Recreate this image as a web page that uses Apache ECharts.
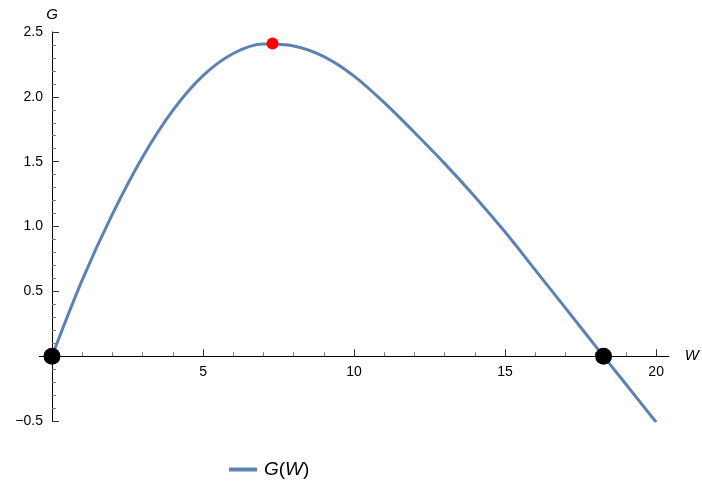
<!DOCTYPE html>
<html>
<head>
<meta charset="utf-8">
<script src="https://cdn.jsdelivr.net/npm/echarts@6/dist/echarts.min.js"></script>
<style>
  html, body { margin: 0; padding: 0; background: #fff; }
  #chart { width: 702px; height: 485px; }
</style>
</head>
<body>
<div id="chart"></div>
<script>
// values
var wValues = [0, 1, 2, 3, 4, 5, 6, 7, 8, 9, 10, 11, 12, 13, 14, 15, 16, 17, 18, 19, 20];
var gValues = [0, 0.587, 1.095, 1.536, 1.895, 2.163, 2.334, 2.407, 2.392, 2.31, 2.16, 1.955, 1.725, 1.485, 1.23, 0.957, 0.664, 0.37, 0.076, -0.217, -0.51];
var maxPoint = [[7.3, 2.411]];
var zeroPoints = [[0, 0], [18.26, 0]];
var xMajorTicks = [5, 10, 15, 20];
var xMinorTicks = [1, 2, 3, 4, 6, 7, 8, 9, 11, 12, 13, 14, 16, 17, 18, 19];

var curve = wValues.map(function (w, i) { return [w, gValues[i]]; });

var myChart = echarts.init(document.getElementById('chart'));
var font = 'Liberation Sans, Arial, sans-serif';

// axes cross at (0,0): offsets move them in from the grid edges
var xAxisOffset = -64.8;
var yAxisOffset = -12.7;

var option = {
  animation: false,
  grid: { left: 39.3, width: 630, top: 32, height: 389, containLabel: false },
  legend: {
    top: 455,
    left: 224,
    icon: 'rect',
    itemWidth: 28,
    itemHeight: 4,
    data: ['G(W)'],
    formatter: function () { return '{s|}{i|G}(' + '{i|W})'; },
    textStyle: {
      fontFamily: font, fontSize: 19, color: '#000',
      rich: {
        s: { width: 2 },
        i: { fontStyle: 'italic', fontFamily: font, fontSize: 19, color: '#000' }
      }
    }
  },
  xAxis: [
    {
      type: 'value', min: -0.42, max: 20.42, position: 'bottom', offset: xAxisOffset,
      name: 'W', nameLocation: 'end', nameGap: 16,
      nameTextStyle: { fontStyle: 'italic', fontFamily: font, fontSize: 15, color: '#000' },
      axisLine: { onZero: false, lineStyle: { color: '#000', width: 1 } },
      axisTick: { inside: true, length: 7, customValues: xMajorTicks, lineStyle: { color: '#333' } },
      axisLabel: { customValues: xMajorTicks, margin: 9, fontFamily: font, fontSize: 14, color: '#000' },
      splitLine: { show: false }
    },
    {
      type: 'value', min: -0.42, max: 20.42, position: 'bottom', offset: xAxisOffset,
      axisLine: { show: false, onZero: false },
      axisTick: { inside: true, length: 4, customValues: xMinorTicks, lineStyle: { color: '#777' } },
      axisLabel: { show: false },
      splitLine: { show: false }
    }
  ],
  yAxis: {
    type: 'value', min: -0.5, max: 2.5, interval: 0.5, position: 'left', offset: yAxisOffset,
    name: 'G', nameLocation: 'end', nameGap: 10,
    nameTextStyle: { fontStyle: 'italic', fontFamily: font, fontSize: 15, color: '#000', align: 'center' },
    axisLine: { show: true, onZero: false, lineStyle: { color: '#000', width: 1 } },
    axisTick: { show: true, inside: true, length: 7, lineStyle: { color: '#333' } },
    minorTick: { show: true, splitNumber: 5, length: 4, lineStyle: { color: '#777' } },
    axisLabel: {
      margin: 9, fontFamily: font, fontSize: 14, color: '#000',
      formatter: function (v) { return v === 0 ? '' : (v < 0 ? '\u2212' + Math.abs(v).toFixed(1) : v.toFixed(1)); }
    },
    splitLine: { show: false },
    minorSplitLine: { show: false }
  },
  series: [
    {
      name: 'G(W)', type: 'line', data: curve, smooth: 0.33,
      showSymbol: false, symbol: 'none',
      lineStyle: { color: '#5E81B5', width: 3 },
      itemStyle: { color: '#5E81B5' },
      z: 3
    },
    {
      name: 'max', type: 'scatter', data: maxPoint, symbolSize: 12,
      itemStyle: { color: '#FF0000', opacity: 1 }, z: 5, silent: true
    },
    {
      name: 'zeros', type: 'scatter', data: zeroPoints, symbolSize: 17,
      itemStyle: { color: '#000', opacity: 1 }, z: 5, silent: true
    }
  ]
};
myChart.setOption(option);
</script>
</body>
</html>
